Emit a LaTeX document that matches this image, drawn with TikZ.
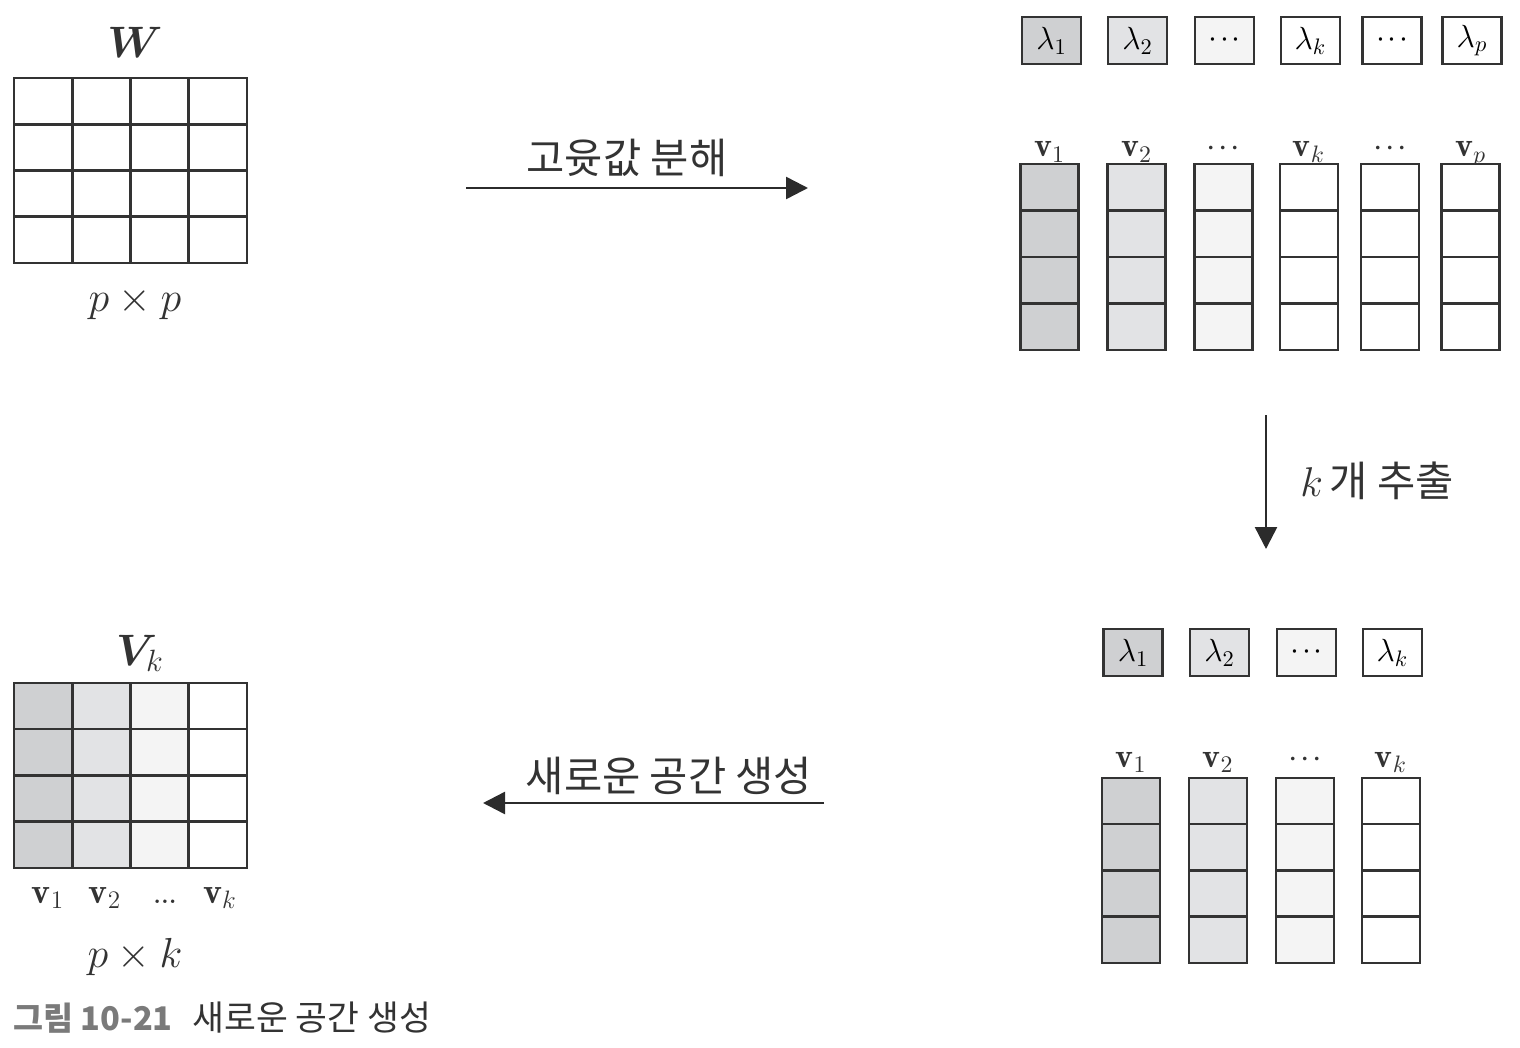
\RequirePackage{fix-cm}
\documentclass[tikz,border=0pt]{standalone}
\usepackage{amsmath}
\usepackage{bm}
\usepackage{fontspec}
\newfontfamily\krfont{Noto Sans CJK KR}
\usepackage{xcolor}
\usetikzlibrary{positioning,arrows.meta}

\definecolor{linec}{HTML}{333333}
\definecolor{arrowc}{HTML}{2B2B2B}
\definecolor{shA}{HTML}{CFD0D2}
\definecolor{shB}{HTML}{E2E3E5}
\definecolor{shC}{HTML}{F4F4F4}
\definecolor{capgray}{HTML}{7A7A7A}

% tight dots as in the figure
\newcommand{\mdots}{\mathinner{\cdotp\mkern-1.5mu\cdotp\mkern-1.5mu\cdotp}}
\newcommand{\bdots}{\mathinner{.\mkern-1mu.\mkern-1mu.}}

\tikzset{
  cell/.style = {draw=linec, line width=1.25pt, minimum width=29pt,
                 minimum height=23.2pt, inner sep=0pt},
  lam/.style = {cell, minimum width=29.5pt, minimum height=23.5pt,
                font=\fontsize{16}{19}\selectfont},
  vlab/.style = {inner sep=0pt, text=linec, font=\fontsize{17}{20}\selectfont},
  big/.style = {inner sep=0pt, text=linec, font=\fontsize{21}{25}\selectfont},
  krlab/.style = {inner sep=0pt, text=linec, font=\krfont\fontsize{20.8}{25}\selectfont},
  flow/.style = {draw=arrowc, line width=1.25pt, -{Triangle[length=11pt,width=11pt]}}
}

\begin{document}
\begin{tikzpicture}[x=0.5pt,y=-0.5pt]
\useasboundingbox (0,0) rectangle (1520,1048);

% W matrix
\node[big, anchor=base, font=\fontsize{22}{26}\selectfont] (wt) at (135,58) {$\bm{W}$};
\foreach \r in {1,...,4}
  \foreach \c in {1,...,4}
    \node[cell] (w-\r-\c) at ({14+58.25*(\c-0.5)}, {78+46.25*(\r-0.5)}) {};
\node[big, anchor=base] (wsize) at (135,312) {$p\times p$};

% eigenvalues and eigenvectors
\foreach \c/\x/\f/\t in {1/1051.5/shA/{\lambda_1}, 2/1137.5/shB/{\lambda_2},
    3/1224.5/shC/{\mdots}, 4/1310.5/white/{\lambda_k}, 5/1392/white/{\mdots},
    6/1472/white/{\lambda_p}}
  \node[lam, fill=\f] (tl-\c) at (\x,40.5) {$\t$};
\foreach \c/\x/\f/\t in {1/1049.5/shA/{\mathbf{v}_1}, 2/1136.5/shB/{\mathbf{v}_2},
    3/1223.5/shC/{\mdots}, 4/1309/white/{\mathbf{v}_k}, 5/1390/white/{\mdots},
    6/1470.5/white/{\mathbf{v}_p}}{
  \node[vlab, anchor=base] (tvl-\c) at (\x,157) {$\t$};
  \foreach \r in {1,...,4}
    \node[cell, fill=\f] (tv-\c-\r) at (\x, {164+46.5*(\r-0.5)}) {};
}

% first k
\foreach \c/\x/\f/\t in {1/1133/shA/{\lambda_1}, 2/1219.5/shB/{\lambda_2},
    3/1306.5/shC/{\mdots}, 4/1392.5/white/{\lambda_k}}
  \node[lam, fill=\f] (bl-\c) at (\x,652.5) {$\t$};
\foreach \c/\x/\f/\t in {1/1131/shA/{\mathbf{v}_1}, 2/1218/shB/{\mathbf{v}_2},
    3/1305/shC/{\mdots}, 4/1391/white/{\mathbf{v}_k}}{
  \node[vlab, anchor=base] (bvl-\c) at (\x,767) {$\t$};
  \foreach \r in {1,...,4}
    \node[cell, fill=\f] (bv-\c-\r) at (\x, {778+46.25*(\r-0.5)}) {};
}

% V_k matrix
\node[big, anchor=base, font=\fontsize{22}{26}\selectfont] (vt) at (140,665) {$\bm{V}_{k}$};
\foreach \c/\f in {1/shA, 2/shB, 3/shC, 4/white}
  \foreach \r in {1,...,4}
    \node[cell, fill=\f] (vk-\r-\c) at ({14+58.25*(\c-0.5)}, {683+46.25*(\r-0.5)}) {};
\foreach \c/\x/\t in {1/48/{\mathbf{v}_1}, 2/105/{\mathbf{v}_2}, 3/165/{\bdots}, 4/220/{\mathbf{v}_k}}
  \node[vlab, anchor=base, font=\fontsize{18}{21}\selectfont] (vkl-\c) at (\x,903) {$\t$};
\node[big, anchor=base] (vksize) at (135,967) {$p\times k$};

% arrows
\coordinate (eig-s) at (466,188);
\coordinate (eig-e) at (808,188);
\draw[flow] (eig-s) -- (eig-e);
\node[krlab] (eig-lab) at (627,158) {고윳값 분해};

\coordinate (pick-s) at (1266,415);
\coordinate (pick-e) at (1266,549);
\draw[flow] (pick-s) -- (pick-e);
\node[krlab, anchor=west] (pick-lab) at (1300,481) {$k$\,개 추출};

\coordinate (new-s) at (824,803);
\coordinate (new-e) at (483,803);
\draw[flow] (new-s) -- (new-e);
\node[krlab] (new-lab) at (669,776) {새로운 공간 생성};

% caption
\node[anchor=base west, inner sep=0pt, font=\krfont\fontsize{17.3}{21}\selectfont] (cap) at (13,1030)
  {\textcolor{capgray}{\fontsize{16.3}{20}\selectfont\bfseries 그림 10-21}\hspace{10pt}\textcolor{linec}{새로운 공간 생성}};
\end{tikzpicture}
\end{document}
